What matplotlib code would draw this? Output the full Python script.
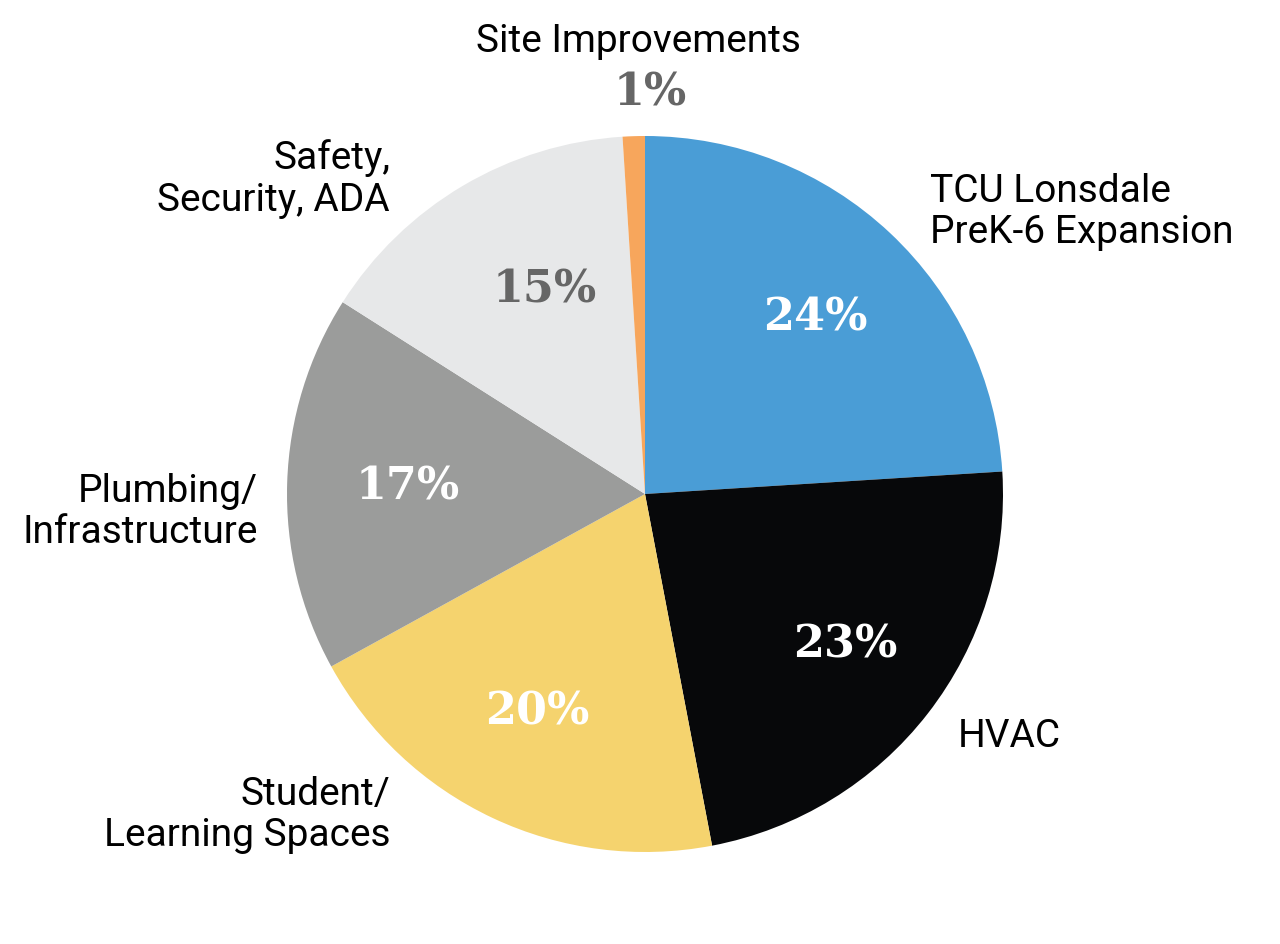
import matplotlib
matplotlib.use("Agg")
import matplotlib.pyplot as plt

categories = ["TCU Lonsdale\nPreK-6 Expansion", "HVAC", "Student/\nLearning Spaces",
              "Plumbing/\nInfrastructure", "Safety,\nSecurity, ADA", "Site Improvements"]
values = [24, 23, 20, 17, 15, 1]
colors = ["#4A9DD6", "#07080A", "#F5D36E", "#9B9C9B", "#E7E8E9", "#F7A65C"]
pct_colors = ["white", "white", "white", "white", "#666666", "#666666"]

W, H = 1280, 945
fig = plt.figure(figsize=(W / 100, H / 100), dpi=100)
ax = fig.add_axes([0, 0, 1, 1])

cx, cy, R = 645, H - 495, 358
wedges, _ = ax.pie(values, colors=colors, startangle=90, counterclock=False,
                   center=(cx, cy), radius=R, frame=True,
                   wedgeprops=dict(linewidth=0))
ax.set_xlim(0, W)
ax.set_ylim(0, H)
ax.axis("off")

# percentage label anchors (pixel positions, y measured from top)
pct_pos = [(815, 318), (845, 645), (537, 712), (408, 487), (545, 290), (650, 93)]
for v, (x, y), c in zip(values, pct_pos, pct_colors):
    ax.text(x, H - y, f"{v}%", ha="center", va="center", color=c,
            fontsize=32, fontweight="bold", family="DejaVu Serif")

lab_font = dict(fontsize=28, family="Roboto", color="black", linespacing=1.16)
label_pos = [(930, 212, "left"), (958, 737, "left"), (390, 815, "right"),
             (258, 512, "right"), (390, 179, "right"), (638, 42, "center")]
for lab, (x, y, ha) in zip(categories, label_pos):
    ax.text(x, H - y, lab, ha=ha, va="center", multialignment=ha, **lab_font)

fig.savefig("out.png", dpi=100)
